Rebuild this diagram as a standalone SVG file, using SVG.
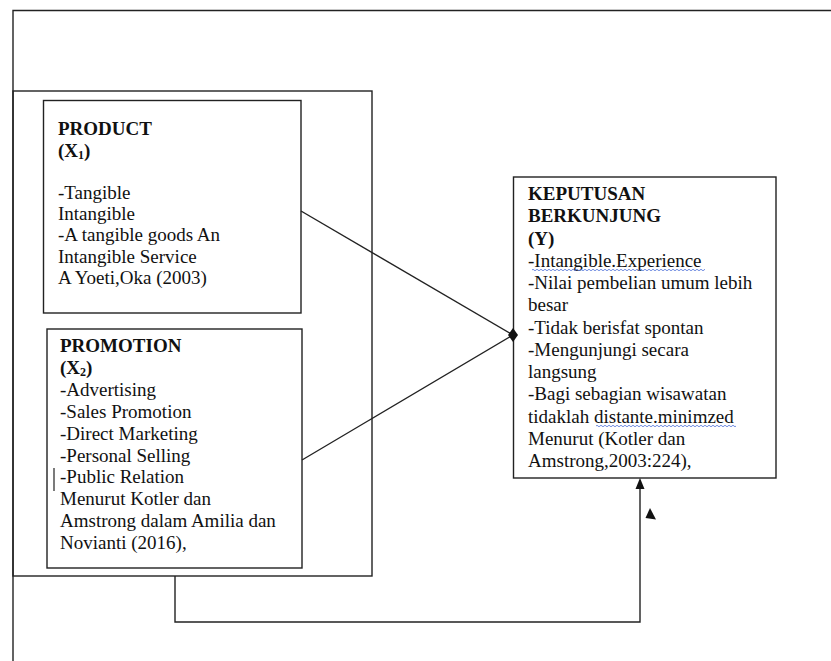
<svg xmlns="http://www.w3.org/2000/svg" width="831" height="661" viewBox="0 0 831 661">
<defs>
<style>
.frame{fill:none;stroke:#222;stroke-width:1.4}
.box{fill:#fff;stroke:#222;stroke-width:1.4}
.conn{fill:none;stroke:#222;stroke-width:1.4}
text{font-family:"Liberation Serif","Times New Roman",serif;font-size:19px;fill:#111}
.b{font-weight:bold}
.sub{font-size:12px}
</style>
<pattern id="wave" width="4" height="4" patternUnits="userSpaceOnUse">
<path d="M0,2 Q1,0.5 2,2 T4,2" fill="none" stroke="#4a6fd8" stroke-width="0.8"/>
</pattern>
</defs>
<rect width="831" height="661" fill="#fff"/>
<g id="outer-frame">
<path class="frame" d="M831,10.5 H13 V661"/>
<rect class="frame" x="13" y="91" width="359" height="485"/>
</g>
<g id="product">
<rect class="box" x="43.5" y="100.5" width="257.5" height="212.5"/>
<text x="58" y="135" class="b">PRODUCT</text>
<text x="58" y="157" class="b">(X<tspan class="sub" dy="2">1</tspan><tspan dy="-2">)</tspan></text>
<text x="58" y="199">-Tangible</text>
<text x="58" y="220">Intangible</text>
<text x="58" y="241">-A tangible goods An</text>
<text x="58" y="262.5">Intangible Service</text>
<text x="58" y="283.5">A Yoeti,Oka (2003)</text>
</g>
<g id="promotion">
<rect class="box" x="47" y="329" width="255" height="239"/>
<text x="60" y="352" class="b">PROMOTION</text>
<text x="60" y="374" class="b">(X<tspan class="sub" dy="2">2</tspan><tspan dy="-2">)</tspan></text>
<text x="60" y="395.8">-Advertising</text>
<text x="60" y="417.7">-Sales Promotion</text>
<text x="60" y="439.6">-Direct Marketing</text>
<text x="60" y="461.5">-Personal Selling</text>
<text x="60" y="483.4">-Public Relation</text>
<text x="60" y="505.3">Menurut Kotler dan</text>
<text x="60" y="527.2">Amstrong dalam Amilia dan</text>
<text x="60" y="549.1">Novianti (2016),</text>
<line x1="54" y1="468" x2="54" y2="491" stroke="#222" stroke-width="1.2"/>
</g>
<g id="keputusan">
<rect class="box" x="513.5" y="177" width="262.5" height="301"/>
<text x="528" y="200" class="b">KEPUTUSAN</text>
<text x="528" y="222.3" class="b">BERKUNJUNG</text>
<text x="528" y="244.5" class="b">(Y)</text>
<text x="528" y="266.8">-Intangible.Experience</text>
<text x="528" y="289">-Nilai pembelian umum lebih</text>
<text x="528" y="311.3">besar</text>
<text x="528" y="333.5">-Tidak berisfat spontan</text>
<text x="528" y="355.8">-Mengunjungi secara</text>
<text x="528" y="378">langsung</text>
<text x="528" y="400.3">-Bagi sebagian wisawatan</text>
<text x="528" y="422.5">tidaklah distante.minimzed</text>
<text x="528" y="444.8">Menurut (Kotler dan</text>
<text x="528" y="467">Amstrong,2003:224),</text>
<rect x="532" y="268" width="173" height="4" fill="url(#wave)"/>
<rect x="596" y="424" width="140" height="4" fill="url(#wave)"/>
</g>
<g id="connectors">
<line class="conn" x1="301" y1="211" x2="513" y2="335"/>
<line class="conn" x1="302" y1="460" x2="513" y2="335"/>
<polygon points="513,328 518,335 513,342 508,335" fill="#111"/>
<path class="conn" d="M175,576 V622 H640 V486"/>
<polygon points="640,478 644.5,489 635.5,489" fill="#111"/>
<polygon points="650,508 645.5,518 656,519.5" fill="#111"/>
</g>
</svg>
